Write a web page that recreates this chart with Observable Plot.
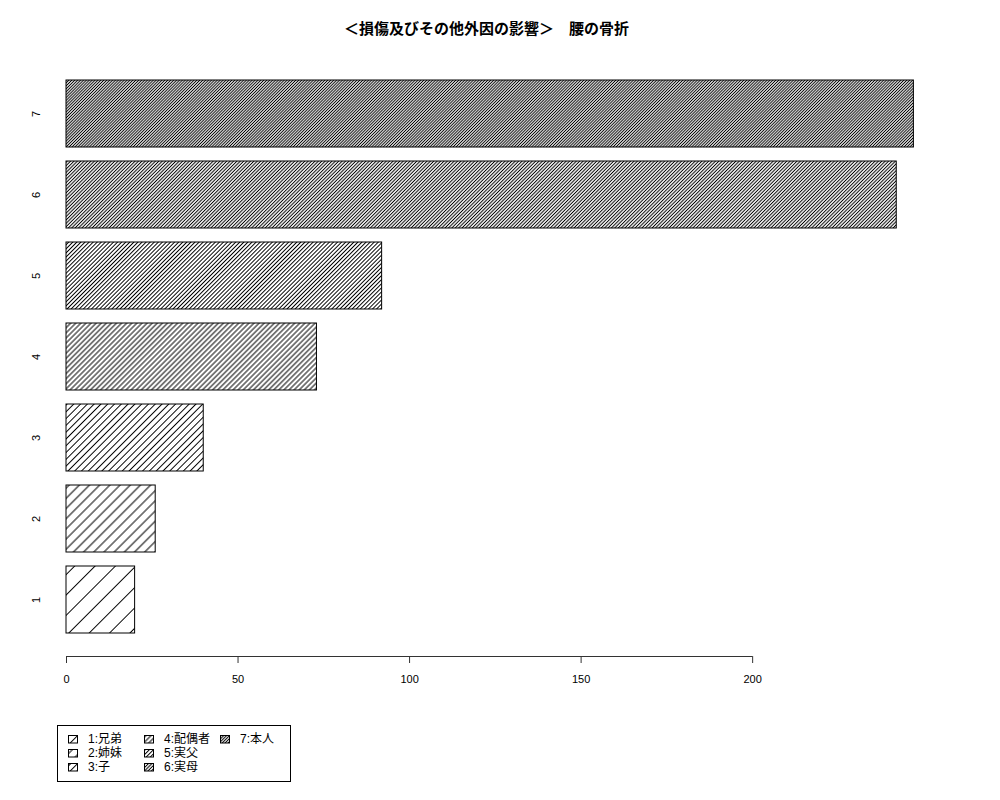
<!DOCTYPE html>
<html>
<head>
<meta charset="utf-8">
<script src="https://cdn.jsdelivr.net/npm/d3@7"></script>
<script src="https://cdn.jsdelivr.net/npm/@observablehq/plot@0.6"></script>
<style>
  body { margin: 0; background: #fff; font-family: "Liberation Sans", "Noto Sans CJK JP", sans-serif; }
  #title { width: 973px; height: 40px; box-sizing: border-box; padding-top: 20px; text-align: center;
           font-size: 15px; line-height: 18px; font-weight: bold; color: #000; }
  #legend { position: relative; margin-left: 57px; margin-top: 5px; width: 234px; height: 57px;
            box-sizing: border-box; border: 1px solid #000; }
  .lg-item { position: absolute; height: 14px; font-size: 12px; line-height: 14px; color: #000; white-space: nowrap; }
  .lg-item svg { position: absolute; left: 0; top: 3px; }
  .lg-item span { position: absolute; top: 0; }
</style>
</head>
<body>
<div id="title">＜損傷及びその他外因の影響＞　腰の骨折</div>
<div id="chart"></div>
<div id="legend"></div>
<script>
// ---- data ----
const categories = ["1", "2", "3", "4", "5", "6", "7"];
const values = [20, 26, 40, 73, 92, 242, 247];
const legendLabels = ["1:兄弟", "2:姉妹", "3:子", "4:配偶者", "5:実父", "6:実母", "7:本人"];
const xTicks = [0, 50, 100, 150, 200];
const hatchDensity = [5, 10, 15, 20, 25, 30, 35]; // lines per inch (style)

const data = categories.map((c, i) => ({cat: c, value: values[i], pat: "url(#hatch" + c + ")"}));

const W = 1000, H = 680;
const plot = Plot.plot({
  width: W,
  height: H,
  marginTop: 17,
  marginBottom: 64,
  marginLeft: 66,
  marginRight: 42,
  style: {fontFamily: "Liberation Sans, Noto Sans CJK JP, sans-serif", fontSize: "11px", background: "#fff", color: "#000"},
  x: {domain: [0, 260], ticks: xTicks, label: null},
  y: {domain: categories.slice().reverse(), paddingInner: 0.1667, paddingOuter: 0.27, label: null, axis: null},
  marks: [
    Plot.barX(data, {x: "value", y: "cat", fill: d => d.pat, stroke: "#000", strokeWidth: 1}),
    Plot.axisX({ticks: xTicks, tickSize: 7, tickPadding: 12, fontSize: 11, label: null, tickFormat: d => String(d), stroke: "#333"}),
    Plot.text(categories, {y: d => d, text: d => d, frameAnchor: "left", dx: -30, rotate: -90, textAnchor: "middle", fontSize: 11, fill: "#000"})
  ]
});

// hatch pattern defs (R density = lines per inch at 72 dpi)
const svg = d3.select(plot);
const defs = svg.insert("defs", ":first-child");
categories.forEach((c, i) => {
  const d = 72 / hatchDensity[i];
  const p = defs.append("pattern")
    .attr("id", "hatch" + c)
    .attr("patternUnits", "userSpaceOnUse")
    .attr("width", 20)
    .attr("height", d)
    .attr("patternTransform", "rotate(-45)");
  p.append("rect").attr("width", 20).attr("height", d).attr("fill", "#fff");
  p.append("line").attr("x1", 0).attr("x2", 20).attr("y1", d / 2).attr("y2", d / 2)
    .attr("stroke", "#000").attr("stroke-width", 1);
});

// axis domain line over the tick range, using the library's x scale
const xs = plot.scale("x");
const yAxis = H - 64;
svg.append("line")
  .attr("x1", xs.apply(xTicks[0])).attr("x2", xs.apply(xTicks[xTicks.length - 1]))
  .attr("y1", yAxis + 0.5).attr("y2", yAxis + 0.5)
  .attr("stroke", "#333").attr("stroke-width", 1);

document.getElementById("chart").appendChild(plot);

// legend (3 rows per column)
const colX = [10, 86, 162];
const legend = document.getElementById("legend");
legendLabels.forEach((lab, i) => {
  const col = Math.floor(i / 3), row = i % 3;
  const item = document.createElement("div");
  item.className = "lg-item";
  item.style.left = colX[col] + "px";
  item.style.top = (6 + row * 14) + "px";
  item.innerHTML = `<svg width="11" height="9"><rect x="0.5" y="0.5" width="9" height="7.5" fill="url(#hatch${categories[i]})" stroke="#000" stroke-width="1"/></svg><span style="left:20px">${lab}</span>`;
  legend.appendChild(item);
});
</script>
</body>
</html>
